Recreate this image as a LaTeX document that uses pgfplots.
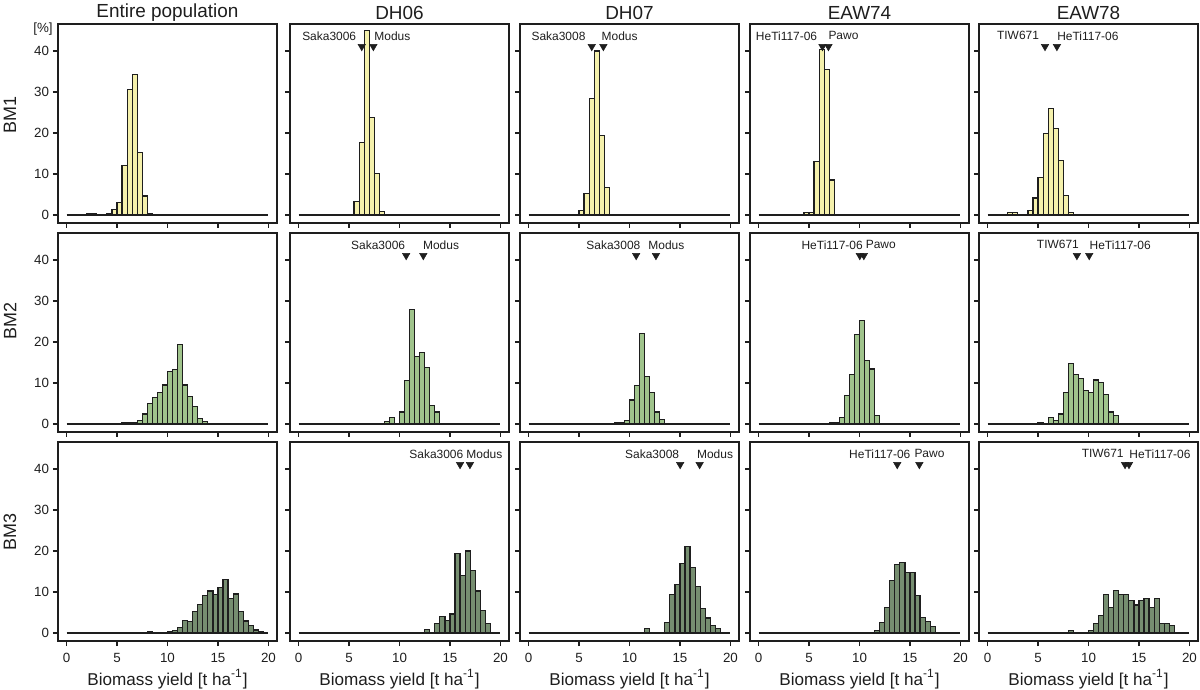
\documentclass[border=0pt]{standalone}
\usepackage{fontspec}
\setmainfont{Liberation Sans}
\usepackage{pgfplots}
\pgfplotsset{compat=1.18}
\definecolor{yel}{RGB}{245,241,172}
\definecolor{grn}{RGB}{160,196,140}
\definecolor{dgrn}{RGB}{118,142,112}
\definecolor{ink}{RGB}{30,30,30}
\newcommand\annfont{\fontsize{6}{7}\selectfont}
\newcommand\ticksfont{\fontsize{6.7}{8}\selectfont}
\pgfplotsset{
 panel/.style={scale only axis, width=109.5bp, height=99.5bp, anchor=south west,
  xmin=-0.85, xmax=20.85, ymin=-2, ymax=46.6,
  xtick={0,5,10,15,20}, ytick={0,10,20,30,40},
  tick align=outside, xtick pos=bottom, ytick pos=left,
  major tick length=2.5bp,
  axis line style={line width=1bp, draw=ink},
  tick style={line width=0.8bp, draw=ink},
  ticklabel style={font=\ticksfont, text=ink},
  yticklabel style={xshift=1.5bp},
  /pgf/number format/assume math mode=true,
  clip=false},
 noxl/.style={xticklabels={}},
 noyl/.style={yticklabels={}},
 bars/.style={ybar interval, draw=ink, line width=0.6bp},
}
\newcommand\base{\addplot[ink, line width=1bp] coordinates {(0,0) (20,0)};}
\newcommand\tri[2]{\addplot[only marks, mark=triangle*, mark size=2.1bp, mark options={rotate=180, fill=ink, draw=ink, line width=0.3bp}] coordinates {(#1,41.1) (#2,41.1)};}
\newcommand\lab[4]{\node[anchor=east, inner sep=0pt, font=\annfont, text=ink] at (axis cs:#1,43.7) {#2};
 \node[anchor=west, inner sep=0pt, font=\annfont, text=ink] at (axis cs:#3,43.7) {#4};}
\begin{document}
\begin{tikzpicture}
\path[use as bounding box] (0,0) rectangle (600bp,345bp);
% ---------------- Row 1 (BM1)
\begin{axis}[panel, noxl, at={(29bp,233.5bp)}]
\addplot[bars, fill=yel] coordinates {(2.0,0.2) (2.5,0.2) (3.0,0) (3.5,0) (4.0,0.4) (4.5,1.3) (5.0,3.1) (5.5,12.0) (6.0,30.6) (6.5,34.3) (7.0,15.2) (7.5,4.6) (8.0,0.3) (8.5,0)};
\base
\end{axis}
\begin{axis}[panel, noxl, noyl, at={(145bp,233.5bp)}]
\addplot[bars, fill=yel] coordinates {(5.5,3.3) (6.0,17.6) (6.5,45.1) (7.0,23.8) (7.5,10.1) (8.0,0.9) (8.5,0)};
\base
\tri{6.26}{7.41}
\lab{5.74}{Saka3006}{7.48}{Modus}
\end{axis}
\begin{axis}[panel, noxl, noyl, at={(260bp,233.5bp)}]
\addplot[bars, fill=yel] coordinates {(5.0,1.0) (5.5,5.2) (6.0,28.4) (6.5,40.0) (7.0,19.3) (7.5,6.7) (8.0,0)};
\base
\tri{6.26}{7.41}
\lab{5.67}{Saka3008}{7.2}{Modus}
\end{axis}
\begin{axis}[panel, noxl, noyl, at={(375bp,233.5bp)}]
\addplot[bars, fill=yel] coordinates {(4.5,0.5) (5.0,0.5) (5.5,13.1) (6.0,40.3) (6.5,35.5) (7.0,8.5) (7.5,0)};
\base
\tri{6.33}{6.92}
\lab{5.84}{HeTi117-06}{6.89}{Pawo}
\end{axis}
\begin{axis}[panel, noxl, noyl, at={(489.5bp,233.5bp)}]
\addplot[bars, fill=yel] coordinates {(2.0,0.5) (2.5,0.5) (3.0,0) (3.5,0) (4.0,1.1) (4.5,4.1) (5.0,9.2) (5.5,19.9) (6.0,26.0) (6.5,21.0) (7.0,13.3) (7.5,4.7) (8.0,0.6) (8.5,0)};
\base
\tri{5.69}{6.87}
\lab{5.13}{TIW671}{6.87}{HeTi117-06}
\end{axis}
% ---------------- Row 2 (BM2)
\begin{axis}[panel, noxl, at={(29bp,129bp)}]
\addplot[bars, fill=grn] coordinates {(5.0,0.1) (5.5,0.2) (6.0,0.3) (6.5,0.3) (7.0,0.8) (7.5,2.4) (8.0,5.0) (8.5,6.4) (9.0,7.6) (9.5,9.5) (10.0,12.7) (10.5,13.3) (11.0,19.3) (11.5,9.5) (12.0,6.6) (12.5,4.2) (13.0,1.2) (13.5,0.5) (14.0,0)};
\base
\end{axis}
\begin{axis}[panel, noxl, noyl, at={(145bp,129bp)}]
\addplot[bars, fill=grn] coordinates {(8.5,0.6) (9.0,1.5) (9.5,0) (10.0,2.9) (10.5,10.6) (11.0,28.0) (11.5,16.5) (12.0,17.4) (12.5,13.7) (13.0,4.5) (13.5,2.9) (14.0,0)};
\base
\tri{10.66}{12.36}
\lab{10.59}{Saka3006}{12.3}{Modus}
\end{axis}
\begin{axis}[panel, noxl, noyl, at={(260bp,129bp)}]
\addplot[bars, fill=grn] coordinates {(8.5,0.25) (9.0,0.25) (9.5,0.8) (10.0,5.8) (10.5,9.4) (11.0,22.1) (11.5,11.5) (12.0,7.7) (12.5,2.9) (13.0,1.1) (13.5,0)};
\base
\tri{10.66}{12.62}
\lab{11.11}{Saka3008}{11.84}{Modus}
\end{axis}
\begin{axis}[panel, noxl, noyl, at={(375bp,129bp)}]
\addplot[bars, fill=grn] coordinates {(7.0,0.3) (7.5,0.3) (8.0,1.5) (8.5,6.9) (9.0,12.0) (9.5,21.8) (10.0,25.3) (10.5,15.4) (11.0,13.4) (11.5,2.0) (12.0,0)};
\base
\tri{10.03}{10.43}
\lab{10.36}{HeTi117-06}{10.59}{Pawo}
\end{axis}
\begin{axis}[panel, noxl, noyl, at={(489.5bp,129bp)}]
\addplot[bars, fill=grn] coordinates {(5.0,0.4) (5.5,0) (6.0,1.5) (6.5,0.9) (7.0,2.4) (7.5,7.6) (8.0,14.7) (8.5,12.0) (9.0,11.1) (9.5,8.1) (10.0,7.6) (10.5,10.7) (11.0,10.1) (11.5,7.1) (12.0,2.9) (12.5,2.0) (13.0,0)};
\base
\tri{8.85}{10.07}
\lab{9.08}{TIW671}{10.07}{HeTi117-06}
\end{axis}
% ---------------- Row 3 (BM3)
\begin{axis}[panel, at={(29bp,24.5bp)}]
\addplot[bars, fill=dgrn] coordinates {(8.0,0.2) (8.5,0) (9.0,0) (9.5,0) (10.0,0.2) (10.5,0.5) (11.0,1.3) (11.5,3.1) (12.0,2.7) (12.5,5.2) (13.0,6.9) (13.5,9.1) (14.0,10.2) (14.5,9.3) (15.0,11.1) (15.5,13.0) (16.0,8.4) (16.5,9.5) (17.0,5.2) (17.5,2.9) (18.0,1.8) (18.5,0.7) (19.0,0.3) (19.5,0)};
\base
\end{axis}
\begin{axis}[panel, noyl, at={(145bp,24.5bp)}]
\addplot[bars, fill=dgrn] coordinates {(12.5,0.9) (13.0,0) (13.5,2.3) (14.0,3.9) (14.5,3.1) (15.0,4.6) (15.5,19.3) (16.0,13.9) (16.5,20.0) (17.0,15.3) (17.5,10.2) (18.0,5.4) (18.5,2.3) (19.0,0)};
\base
\tri{16.0}{16.98}
\lab{16.36}{Saka3006}{16.59}{Modus}
\end{axis}
\begin{axis}[panel, noyl, at={(260bp,24.5bp)}]
\addplot[bars, fill=dgrn] coordinates {(11.5,1.0) (12.0,0) (12.5,0) (13.0,0) (13.5,2.6) (14.0,9.3) (14.5,11.8) (15.0,17.0) (15.5,21.0) (16.0,16.0) (16.5,11.3) (17.0,6.0) (17.5,3.6) (18.0,1.8) (18.5,1.1) (19.0,0)};
\base
\tri{15.02}{16.95}
\lab{14.95}{Saka3008}{16.66}{Modus}
\end{axis}
\begin{axis}[panel, noyl, at={(375bp,24.5bp)}]
\addplot[bars, fill=dgrn] coordinates {(11.5,0.6) (12.0,2.6) (12.5,6.2) (13.0,12.8) (13.5,16.7) (14.0,17.2) (14.5,14.7) (15.0,14.7) (15.5,9.1) (16.0,3.8) (16.5,2.8) (17.0,1.6) (17.5,0)};
\base
\tri{13.74}{15.93}
\lab{15.08}{HeTi117-06}{15.41}{Pawo}
\end{axis}
\begin{axis}[panel, noyl, at={(489.5bp,24.5bp)}]
\addplot[bars, fill=dgrn] coordinates {(8.0,0.6) (8.5,0) (9.0,0) (9.5,0) (10.0,0.6) (10.5,2.2) (11.0,4.2) (11.5,9.3) (12.0,6.2) (12.5,10.4) (13.0,9.3) (13.5,9.3) (14.0,7.8) (14.5,6.8) (15.0,7.9) (15.5,8.4) (16.0,6.2) (16.5,8.4) (17.0,2.2) (17.5,2.2) (18.0,1.7) (18.5,0)};
\base
\tri{13.62}{14.01}
\lab{13.52}{TIW671}{14.01}{HeTi117-06}
\end{axis}
% ---------------- Titles and labels
\begin{scope}[every node/.style={text=ink, inner sep=0pt}]
\node[font=\fontsize{9.5}{11}\selectfont] at (83.75bp,338.5bp) {Entire population};
\node[font=\fontsize{9.5}{11}\selectfont] at (199.75bp,338.5bp) {DH06};
\node[font=\fontsize{9.5}{11}\selectfont] at (314.75bp,338.5bp) {DH07};
\node[font=\fontsize{9.5}{11}\selectfont] at (429.75bp,338.5bp) {EAW74};
\node[font=\fontsize{9.5}{11}\selectfont] at (544.25bp,338.5bp) {EAW78};
\node[font=\fontsize{9}{11}\selectfont, rotate=90] at (5bp,287.5bp) {BM1};
\node[font=\fontsize{9}{11}\selectfont, rotate=90] at (5bp,184.5bp) {BM2};
\node[font=\fontsize{9}{11}\selectfont, rotate=90] at (5bp,79bp) {BM3};
\node[font=\ticksfont] at (21.5bp,330.5bp) {[\%]};
\foreach \cx in {83.75,199.75,314.75,429.75,544.25}{
 \node[font=\fontsize{8.6}{10}\selectfont, anchor=base] at (\cx bp,2.5bp) {Biomass yield [t ha\textsuperscript{-1}]};
}
\end{scope}
\end{tikzpicture}
\end{document}
